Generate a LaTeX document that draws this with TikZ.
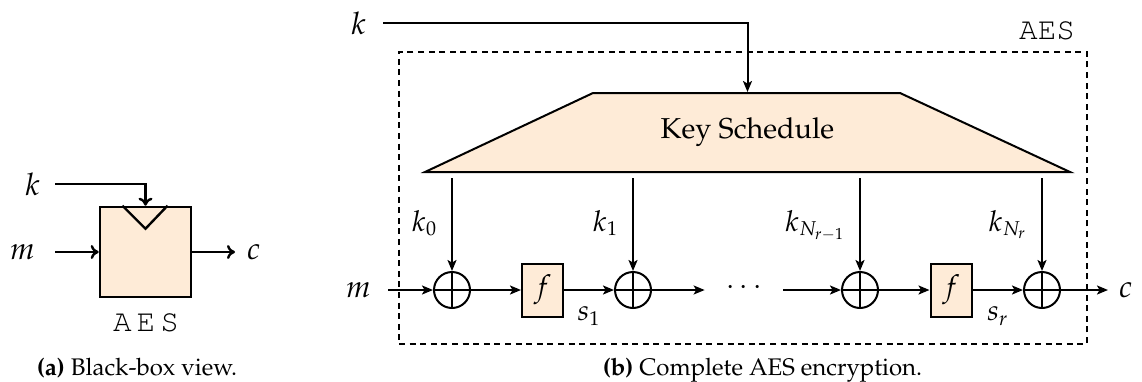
\documentclass[tikz,border=0pt]{standalone}
\usepackage[T1]{fontenc}
\usepackage{mathpazo}
\usepackage{courier}
\usetikzlibrary{arrows.meta,calc}
\definecolor{boxfill}{RGB}{254,235,215}
\tikzset{
  arrb/.style={-{Stealth[length=5.5pt,width=4.5pt,inset=1.3pt]}},
  arra/.style={-{To[length=4pt,width=7pt]}},
  lbl/.style={inner sep=0pt, font=\fontsize{14.4}{17}\selectfont},
  biglbl/.style={inner sep=0pt, font=\fontsize{15.5}{18}\selectfont},
  ttlbl/.style={inner sep=0pt, font=\fontsize{15.5}{18}\ttfamily},
  caplbl/.style={inner sep=0pt, font=\fontsize{12}{14}\selectfont},
  blka/.style={draw, fill=boxfill, line width=1.3pt, inner sep=0pt},
  fbox/.style={draw, fill=boxfill, minimum width=20.5pt, minimum height=26.5pt, inner sep=0pt, font=\fontsize{15}{18}\selectfont},
  xor/.style={circle, draw, minimum size=18pt, inner sep=0pt,
    path picture={\draw (path picture bounding box.north) -- (path picture bounding box.south)
      (path picture bounding box.west) -- (path picture bounding box.east);}},
  trap/.style={draw, fill=boxfill},
  dashbox/.style={draw, dash pattern=on 3pt off 2.3pt, inner sep=0pt},
}
\begin{document}
\begin{tikzpicture}[x=0.5pt,y=-0.5pt,line width=1pt]
\useasboundingbox (0,0) rectangle (1142,381);

% ---------- (a) black box ----------
\node[blka, minimum width=45.5pt, minimum height=45pt] (abox) at (145.5,252) {};
\draw[line width=1.2pt] ($(abox.north)+(-23,0)$) -- ($(abox.north)+(0,23)$) -- ($(abox.north)+(22,0)$);
\node[biglbl, anchor=east] (ka) at (41,184) {$k$};
\node[biglbl, anchor=east] (ma) at (36,252) {$m$};
\node[biglbl, anchor=west] (ca) at (246,252) {$c$};
\draw[arra, line width=1.2pt, shorten <=7pt] (ka.east) -| (abox.north);
\draw[arra, line width=1.2pt, shorten <=9.5pt] (ma.east) -- (abox.west);
\draw[arra, line width=1.2pt, shorten >=5.5pt] (abox.east) -- (ca.west);
\node[ttlbl] (aesa) at (146,323) {A\kern2.5pt E\kern2.5pt S};
\node[caplbl, anchor=base] (capa) at (137,375) {\textbf{(a)} Black-box view.};

% ---------- (b) complete AES ----------
\node[dashbox, minimum width=344pt, minimum height=146pt] (aesbox) at (743,198) {};
\node[ttlbl, anchor=south east] (aesb) at ($(aesbox.north east)+(-12,-10)$) {AES};

\filldraw[trap] (425,172) -- (593,93) -- (900,93) -- (1070,172) -- cycle;
\node[lbl, minimum width=322.5pt, minimum height=39.5pt] (ks) at (747.5,132.5) {Key Schedule};

\node[biglbl, anchor=east] (kb) at (367,23) {$k$};
\draw[arrb, shorten <=8pt] (kb.east) -| (ks.north);

\node[xor] (x0) at (452,290) {};
\node[fbox] (f1) at (542.5,290) {$f$};
\node[xor] (x1) at (633,290) {};
\node[lbl, anchor=mid, inner xsep=10pt] (dd) at (744,290) {$\cdots$};
\node[xor] (x2) at (860,290) {};
\node[fbox] (f2) at (951,290) {$f$};
\node[xor] (x3) at (1042,290) {};

\node[biglbl, anchor=east] (mb) at (372,290) {$m$};
\node[biglbl, anchor=west] (cb) at (1118,290) {$c$};

\draw[arrb, shorten <=8pt] (mb.east) -- (x0.west);
\draw[arrb] (x0.east) -- (f1.west);
\draw[arrb] (f1.east) -- (x1.west) node[lbl, midway, below=8pt] (s1) {$s_1$};
\draw[arrb] (x1.east) -- (dd.mid west);
\draw[arrb] (dd.mid east) -- (x2.west);
\draw[arrb] (x2.east) -- (f2.west);
\draw[arrb] (f2.east) -- (x3.west) node[lbl, midway, below=8pt] (sr) {$s_r$};
\draw[arrb, shorten >=5pt] (x3.east) -- (cb.west);

\draw[arrb, shorten <=2.5pt] (ks.south -| x0.north) -- (x0.north);
\draw[arrb, shorten <=2.5pt] (ks.south -| x1.north) -- (x1.north);
\draw[arrb, shorten <=2.5pt] (ks.south -| x2.north) -- (x2.north);
\draw[arrb, shorten <=2.5pt] (ks.south -| x3.north) -- (x3.north);

\node[lbl, anchor=base east] (k0) at (438,231) {$k_0$};
\node[lbl, anchor=base east] (k1) at (619,231) {$k_1$};
\node[lbl, anchor=base east] (kn1) at (846,231) {$k_{N_{r-1}}$};
\node[lbl, anchor=base east] (kn) at (1028,231) {$k_{N_r}$};

\node[caplbl, anchor=base] (capb) at (762.5,375) {\textbf{(b)} Complete AES encryption.};
\end{tikzpicture}
\end{document}
